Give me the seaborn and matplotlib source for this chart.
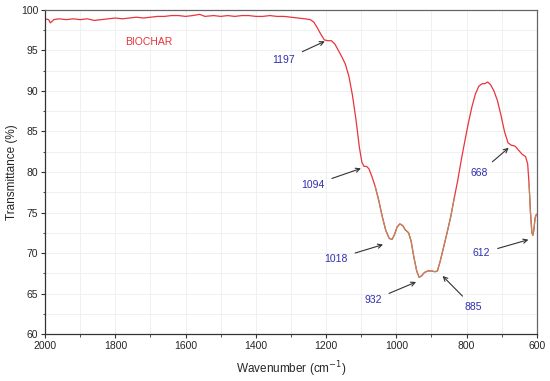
import matplotlib
matplotlib.use("Agg")
import matplotlib.pyplot as plt
from matplotlib.ticker import MultipleLocator
import numpy as np
import pandas as pd
import seaborn as sns

# FTIR spectrum
wavenumber = [2000, 1990, 1985, 1975, 1960, 1940, 1920, 1900, 1880, 1860, 1840, 1820,
              1800, 1780, 1760, 1740, 1720, 1700, 1680, 1660, 1640, 1620, 1600, 1580,
              1560, 1545, 1520, 1500, 1480, 1460, 1440, 1420, 1400, 1380, 1360, 1340,
              1320, 1300, 1280, 1260, 1245, 1235, 1225, 1215, 1205, 1195, 1185, 1175,
              1165, 1155, 1145, 1135, 1125, 1115, 1105, 1098, 1092, 1085, 1078, 1070,
              1060, 1050, 1040, 1030, 1020, 1012, 1005, 998, 990, 982, 975, 965, 958,
              950, 942, 935, 928, 920, 910, 900, 890, 883, 875, 865, 855, 845, 835,
              825, 815, 805, 795, 785, 775, 765, 755, 748, 740, 732, 722, 712, 702,
              692, 682, 672, 662, 652, 642, 632, 626, 622, 618, 614, 611, 608, 605,
              602, 600]
transmittance = [98.9, 98.8, 98.4, 98.8, 98.9, 98.8, 98.9, 98.8, 98.9, 98.7, 98.8, 98.9,
                 99.0, 98.9, 99.0, 99.1, 99.0, 99.1, 99.2, 99.2, 99.3, 99.3, 99.2, 99.3,
                 99.45, 99.2, 99.3, 99.2, 99.3, 99.2, 99.3, 99.3, 99.2, 99.2, 99.3, 99.2,
                 99.2, 99.1, 99.0, 98.9, 98.8, 98.5, 97.8, 97.0, 96.3, 96.2, 96.2, 95.8,
                 95.0, 94.2, 93.3, 91.8, 89.5, 86.5, 83.0, 81.2, 80.7, 80.7, 80.4, 79.5,
                 78.2, 76.5, 74.5, 72.8, 71.8, 71.7, 72.3, 73.2, 73.6, 73.4, 72.9, 72.5, 71.5,
                 69.5, 67.8, 67.0, 67.2, 67.6, 67.8, 67.8, 67.7, 67.8, 69.0, 70.8, 72.6, 74.5, 76.8,
                 79.0, 81.5, 83.8, 86.0, 88.0, 89.6, 90.6, 90.9, 90.9, 91.1, 90.8, 90.0, 88.8, 87.0,
                 85.0, 83.6, 83.3, 83.2, 82.7, 82.2, 81.9, 81.0, 78.5, 75.0, 72.5, 72.2, 73.0, 74.3,
                 74.7, 74.8]

peak_labels = ["1197", "1094", "1018", "932", "885", "668", "612"]
peak_wavenumber = [1200, 1097, 1034, 940, 871, 677, 620]
peak_transmittance = [96.2, 80.5, 71.1, 66.5, 67.3, 83.1, 71.7]
label_wavenumber = [1320, 1237, 1171, 1066, 780, 763, 757]
label_transmittance = [93.8, 78.4, 69.3, 64.2, 63.3, 79.9, 70.0]

df = pd.DataFrame({"Wavenumber": wavenumber, "Transmittance": transmittance})
# lower part of the trace shows up in a brownish tone
low = df.copy()
low.loc[low["Transmittance"] > 78.5, "Transmittance"] = np.nan

sns.set_theme(style="ticks")
plt.rcParams["font.family"] = ["Liberation Sans", "DejaVu Sans"]

fig = plt.figure(figsize=(5.5, 3.81), dpi=100)
ax = fig.add_axes([0.082, 0.123, 0.894, 0.851])

sns.lineplot(data=df, x="Wavenumber", y="Transmittance", ax=ax, color="#e8343c",
             lw=0.9, sort=False, estimator=None)
ax.plot(low["Wavenumber"], low["Transmittance"], color="#b98a5e", lw=0.9)

for lab, px, py, tx, ty in zip(peak_labels, peak_wavenumber, peak_transmittance,
                               label_wavenumber, label_transmittance):
    ax.annotate(lab, xy=(px, py), xytext=(tx, ty), ha="center", va="center",
                color="#2e2eb0", fontsize=7.5,
                arrowprops=dict(arrowstyle="->", color="#333333", lw=0.8,
                                shrinkA=3, shrinkB=1))

ax.text(1706, 96.0, "BIOCHAR", color="#e8343c", fontsize=7.5, ha="center", va="center")

ax.set_xlim(2000, 600)
ax.set_ylim(60, 100)
ax.xaxis.set_major_locator(MultipleLocator(200))
ax.xaxis.set_minor_locator(MultipleLocator(100))
ax.yaxis.set_major_locator(MultipleLocator(5))
ax.yaxis.set_minor_locator(MultipleLocator(2.5))
ax.grid(which="both", color="#eeeeee", lw=0.6)
ax.set_axisbelow(True)

ax.tick_params(which="major", length=3, width=0.8, labelsize=7.5, color="#333333", pad=2)
ax.tick_params(which="minor", length=1.8, width=0.6, color="#333333")
for side in ["left", "bottom"]:
    ax.spines[side].set_color("#333333")
for side in ["top", "right"]:
    ax.spines[side].set_color("#666666")
for sp in ax.spines.values():
    sp.set_linewidth(0.9)

ax.set_xlabel("Wavenumber (cm$^{-1}$)", fontsize=8.5, labelpad=6)
ax.set_ylabel("Transmittance (%)", fontsize=8.5, labelpad=2)

fig.savefig("out.png", dpi=100)
